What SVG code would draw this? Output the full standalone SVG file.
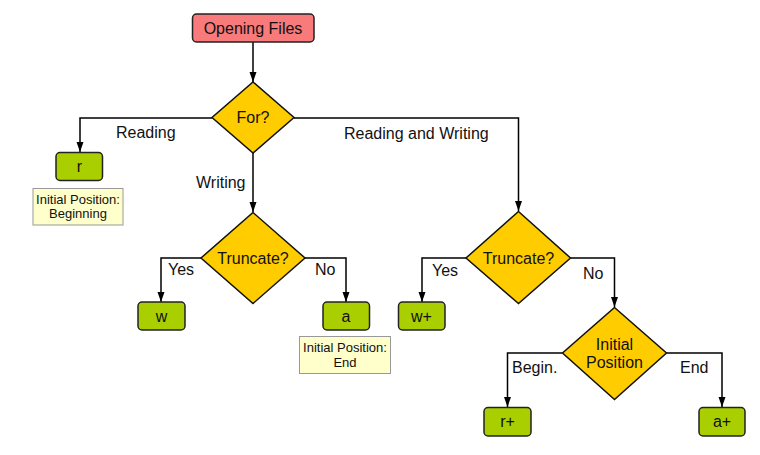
<svg xmlns="http://www.w3.org/2000/svg" width="760" height="455" viewBox="0 0 760 455">
<defs>
<marker id="arr" markerUnits="userSpaceOnUse" markerWidth="12" markerHeight="10" refX="10" refY="3.5" orient="auto">
<path d="M0,0 L10,3.5 L0,7 Z" fill="#000"/>
</marker>
<style>
text{font-family:"Liberation Sans",Arial,sans-serif;font-size:16px;fill:#111}
.c{text-anchor:middle}
.n{font-size:13px}
.start{fill:#f87a7a;stroke:#222;stroke-width:1.5}
.box{fill:#a9cf00;stroke:#222;stroke-width:1.5}
.dia{fill:#ffcc00;stroke:#111;stroke-width:1.5}
.note{fill:#ffffcc;stroke:#999;stroke-width:1}
.e{fill:none;stroke:#000;stroke-width:1.5;marker-end:url(#arr)}
</style>
</defs>
<g id="connectors">
<path class="e" d="M253,42 V82"/>
<path class="e" d="M212,118 H80 V152"/>
<path class="e" d="M294,118 H518.5 V211"/>
<path class="e" d="M253,153 V212"/>
<path class="e" d="M201,258 H161 V302"/>
<path class="e" d="M305,258 H346 V302"/>
<path class="e" d="M466,258 H422 V302"/>
<path class="e" d="M570.5,258 H614.5 V307"/>
<path class="e" d="M562.5,353 H507.5 V407"/>
<path class="e" d="M666.5,353 H722 V407"/>
</g>
<g id="edge-labels">
<text x="116" y="137.5">Reading</text>
<text x="344" y="139">Reading and Writing</text>
<text x="196" y="188">Writing</text>
<text x="168" y="275">Yes</text>
<text x="315" y="275">No</text>
<text x="432" y="276">Yes</text>
<text x="583" y="279">No</text>
<text x="512" y="373">Begin.</text>
<text x="680" y="373">End</text>
</g>
<g id="start">
<rect class="start" x="192.5" y="14" width="121.5" height="28" rx="4"/>
<text class="c" x="253" y="33.5">Opening Files</text>
</g>
<g id="for">
<path class="dia" d="M253,82 L294,117.5 L253,153 L212,117.5 Z"/>
<text class="c" x="253" y="123">For?</text>
</g>
<g id="r">
<rect class="box" x="56" y="152.5" width="46.5" height="28" rx="4"/>
<text class="c" x="79.5" y="172">r</text>
</g>
<g id="note-r">
<rect class="note" x="33" y="188.5" width="90" height="36.5"/>
<text class="c n" x="78" y="204">Initial Position:</text>
<text class="c n" x="78" y="218">Beginning</text>
</g>
<g id="truncate1">
<path class="dia" d="M253,212.5 L305,258 L253,303.5 L201,258 Z"/>
<text class="c" x="253" y="263.5">Truncate?</text>
</g>
<g id="w">
<rect class="box" x="138" y="302" width="47" height="28" rx="4"/>
<text class="c" x="161.5" y="321.5">w</text>
</g>
<g id="a">
<rect class="box" x="323" y="302" width="46.5" height="28" rx="4"/>
<text class="c" x="346" y="321.5">a</text>
</g>
<g id="note-a">
<rect class="note" x="299.5" y="336.5" width="91" height="37"/>
<text class="c n" x="345" y="352">Initial Position:</text>
<text class="c n" x="345" y="367">End</text>
</g>
<g id="truncate2">
<path class="dia" d="M518.5,211.5 L570.5,258 L518.5,303.5 L466,258 Z"/>
<text class="c" x="518.5" y="263.5">Truncate?</text>
</g>
<g id="wplus">
<rect class="box" x="398.5" y="302" width="46.5" height="28" rx="4"/>
<text class="c" x="421.5" y="321.5">w+</text>
</g>
<g id="initpos">
<path class="dia" d="M614.5,307.5 L666.5,353 L614.5,399.5 L562.5,353 Z"/>
<text class="c" x="614.5" y="349.5">Initial</text>
<text class="c" x="614.5" y="368">Position</text>
</g>
<g id="rplus">
<rect class="box" x="484" y="407.5" width="47" height="28.5" rx="4"/>
<text class="c" x="507.5" y="427">r+</text>
</g>
<g id="aplus">
<rect class="box" x="699" y="407.5" width="46" height="28.5" rx="4"/>
<text class="c" x="722" y="427">a+</text>
</g>
</svg>
